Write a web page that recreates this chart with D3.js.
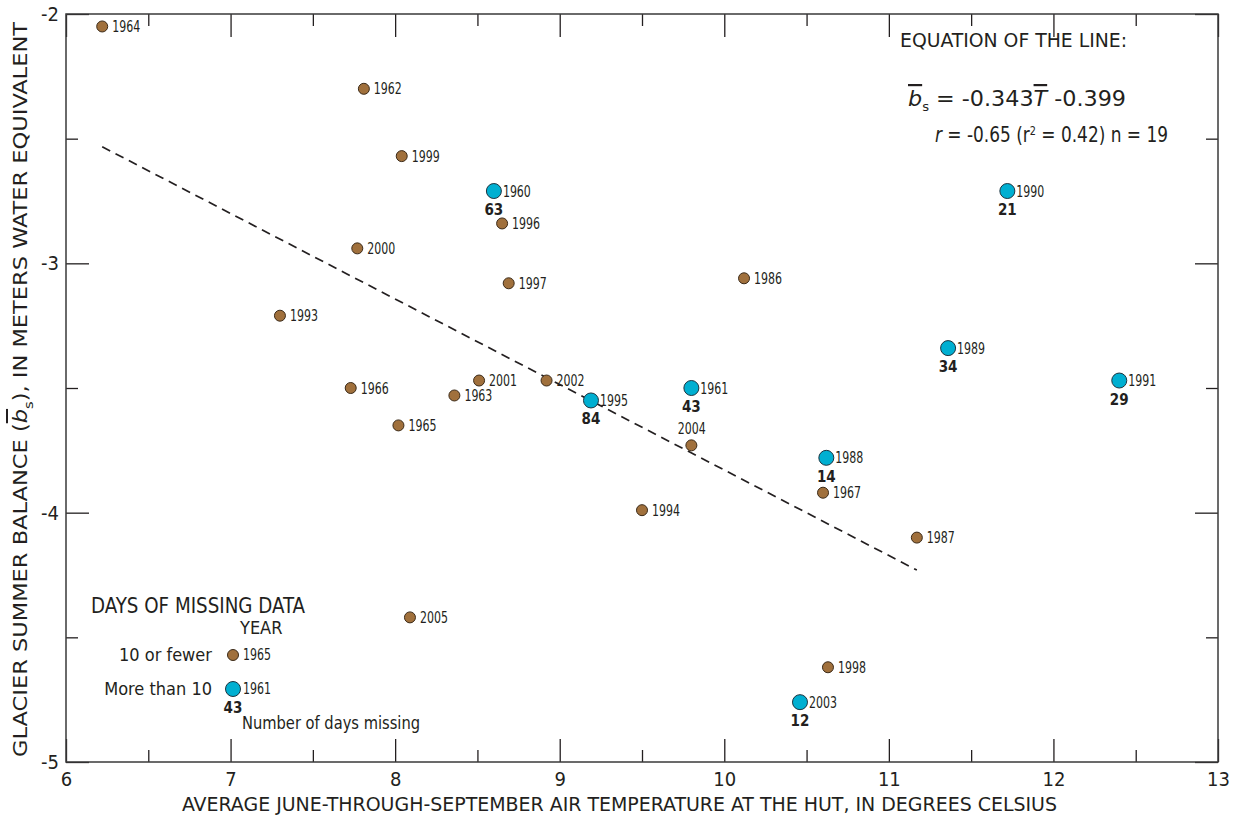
<!DOCTYPE html>
<html lang="en">
<head>
<meta charset="UTF-8">
<title>Glacier summer balance vs air temperature</title>
<script src="https://cdn.jsdelivr.net/npm/d3@7"></script>
<style>
  body { margin: 0; background: #fff; }
  text { font-family: "Liberation Sans Narrow", "DejaVu Sans Condensed", sans-serif; fill: #231f20; }
</style>
</head>
<body>
<script>
// years with 10 or fewer days of missing data (these are used for the line)
const fewYears = [1964, 1962, 1999, 1996, 2000, 1997, 1986, 1993, 1966, 2001, 2002, 1963, 1965, 2004, 1967, 1994, 1987, 2005, 1998];
const fewTemp  = [6.22, 7.81, 8.04, 8.65, 7.77, 8.69, 10.12, 7.30, 7.73, 8.51, 8.92, 8.36, 8.02, 9.80, 10.60, 9.50, 11.17, 8.09, 10.63];
const fewBal   = [-2.05, -2.30, -2.57, -2.84, -2.94, -3.08, -3.06, -3.21, -3.50, -3.47, -3.47, -3.53, -3.65, -3.73, -3.92, -3.99, -4.10, -4.42, -4.62];

// years with more than 10 days missing
const manyYears = [1960, 1990, 1989, 1991, 1961, 1995, 1988, 2003];
const manyTemp  = [8.60, 11.72, 11.36, 12.40, 9.80, 9.19, 10.62, 10.46];
const manyBal   = [-2.71, -2.71, -3.34, -3.47, -3.50, -3.55, -3.78, -4.76];
const manyDays  = [63, 21, 34, 29, 43, 84, 14, 12];

const xTicks = [6, 7, 8, 9, 10, 11, 12, 13];
const xMinor = [6.5, 7.5, 8.5, 9.5, 10.5, 11.5, 12.5];
const yTicks = [-2, -3, -4, -5];
const yMinor = [-2.5, -3.5, -4.5];

const slope = -0.343, intercept = -0.399;

const width = 1239, height = 820;
const margin = { top: 14, right: 21, bottom: 58, left: 66 };
const brown = "#a0703c", blue = "#00afd1";

const svg = d3.select("body").append("svg")
    .attr("width", width)
    .attr("height", height);

const x = d3.scaleLinear().domain([6, 13]).range([margin.left, width - margin.right]);
const y = d3.scaleLinear().domain([-2, -5]).range([margin.top, height - margin.bottom]);

// axes, ticks pointing inward on all four sides
function drawAxis(axis, tx, ty, labels) {
    const g = svg.append("g")
        .attr("transform", `translate(${tx},${ty})`)
        .call(axis);
    g.select(".domain").remove();
    g.selectAll("line").attr("stroke", "#231f20").attr("stroke-width", 1.3);
    if (!labels) g.selectAll("text").remove();
    else g.selectAll("text").attr("font-size", 20).attr("fill", "#231f20");
    return g;
}
const plotBottom = y(-5), plotTop = y(-2), plotLeft = x(6), plotRight = x(13);
const plain = d => String(d);

drawAxis(d3.axisBottom(x).tickValues(xTicks).tickSize(-23).tickPadding(10).tickFormat(plain), 0, plotBottom, true);
drawAxis(d3.axisBottom(x).tickValues(xMinor).tickSize(-12), 0, plotBottom, false);
drawAxis(d3.axisTop(x).tickValues(xTicks).tickSize(-23), 0, plotTop, false);
drawAxis(d3.axisTop(x).tickValues(xMinor).tickSize(-12), 0, plotTop, false);
drawAxis(d3.axisLeft(y).tickValues(yTicks).tickSize(-23).tickPadding(7).tickFormat(plain), plotLeft, 0, true);
drawAxis(d3.axisLeft(y).tickValues(yMinor).tickSize(-12), plotLeft, 0, false);
drawAxis(d3.axisRight(y).tickValues(yTicks).tickSize(-23), plotRight, 0, false);
drawAxis(d3.axisRight(y).tickValues(yMinor).tickSize(-12), plotRight, 0, false);

svg.append("rect")
    .attr("x", plotLeft).attr("y", plotTop)
    .attr("width", plotRight - plotLeft).attr("height", plotBottom - plotTop)
    .attr("fill", "none").attr("stroke", "#3a3a3a").attr("stroke-width", 1.5);

// regression line over the range of the fitted years
const xr = d3.extent(fewTemp);
svg.append("line")
    .attr("x1", x(xr[0])).attr("y1", y(slope * xr[0] + intercept))
    .attr("x2", x(xr[1])).attr("y2", y(slope * xr[1] + intercept))
    .attr("stroke", "#231f20").attr("stroke-width", 1.7)
    .attr("stroke-dasharray", "9,6");

// points
const few = fewYears.map((yr, i) => ({ yr, t: fewTemp[i], b: fewBal[i] }));
const many = manyYears.map((yr, i) => ({ yr, t: manyTemp[i], b: manyBal[i], days: manyDays[i] }));

svg.append("g").selectAll("circle").data(few).join("circle")
    .attr("cx", d => x(d.t)).attr("cy", d => y(d.b)).attr("r", 5.5)
    .attr("fill", brown).attr("stroke", "#3b2a18").attr("stroke-width", 1);

svg.append("g").selectAll("circle").data(many).join("circle")
    .attr("cx", d => x(d.t)).attr("cy", d => y(d.b)).attr("r", 7.5)
    .attr("fill", blue).attr("stroke", "#1c3440").attr("stroke-width", 1);

// year labels are squeezed to the width of the condensed original
svg.append("g").selectAll("text").data(few).join("text")
    .attr("x", d => d.yr === 2004 ? x(d.t) - 13.5 : x(d.t) + 10)
    .attr("y", d => d.yr === 2004 ? y(d.b) - 11 : y(d.b) + 5.5)
    .attr("font-size", 15)
    .attr("textLength", 28).attr("lengthAdjust", "spacingAndGlyphs")
    .text(d => d.yr);

svg.append("g").selectAll("text").data(many).join("text")
    .attr("x", d => x(d.t) + 9).attr("y", d => y(d.b) + 5.5)
    .attr("font-size", 15)
    .attr("textLength", 28).attr("lengthAdjust", "spacingAndGlyphs")
    .text(d => d.yr);

svg.append("g").selectAll("text").data(many).join("text")
    .attr("x", d => x(d.t)).attr("y", d => y(d.b) + 24)
    .attr("text-anchor", "middle")
    .attr("font-size", 15).attr("font-weight", "bold")
    .text(d => d.days);

// equation block
svg.append("text").attr("x", 900).attr("y", 47).attr("font-size", 20)
    .attr("textLength", 227).attr("lengthAdjust", "spacingAndGlyphs")
    .text("EQUATION OF THE LINE:");

const eq = svg.append("text").attr("x", 908).attr("y", 106).attr("font-size", 22)
    .attr("textLength", 218).attr("lengthAdjust", "spacingAndGlyphs");
eq.append("tspan").attr("font-style", "italic").attr("text-decoration", "overline").text("b");
eq.append("tspan").attr("font-size", 13).attr("dy", 5).text("s");
eq.append("tspan").attr("dy", -5).text(" = -0.343");
eq.append("tspan").attr("font-style", "italic").attr("text-decoration", "overline").text("T");
eq.append("tspan").text(" -0.399");

const rr = svg.append("text").attr("x", 935).attr("y", 142).attr("font-size", 21)
    .attr("textLength", 233).attr("lengthAdjust", "spacingAndGlyphs");
rr.append("tspan").attr("font-style", "italic").text("r");
rr.append("tspan").text(" = -0.65 (r");
rr.append("tspan").attr("font-size", 12).attr("dy", -7).text("2");
rr.append("tspan").attr("dy", 7).text(" = 0.42)  n = 19");

// legend
const lg = svg.append("g");
lg.append("text").attr("x", 91).attr("y", 613).attr("font-size", 21)
    .attr("textLength", 214).attr("lengthAdjust", "spacingAndGlyphs").text("DAYS OF MISSING DATA");
lg.append("text").attr("x", 240).attr("y", 634).attr("font-size", 18).text("YEAR");
lg.append("text").attr("x", 212).attr("y", 661).attr("font-size", 18).attr("text-anchor", "end").text("10 or fewer");
lg.append("text").attr("x", 212).attr("y", 695).attr("font-size", 18).attr("text-anchor", "end").text("More than 10");
lg.append("circle").attr("cx", 233).attr("cy", 655).attr("r", 5.5)
    .attr("fill", brown).attr("stroke", "#3b2a18");
lg.append("circle").attr("cx", 233).attr("cy", 689).attr("r", 7.5)
    .attr("fill", blue).attr("stroke", "#1c3440");
lg.append("text").attr("x", 243).attr("y", 660).attr("font-size", 15)
    .attr("textLength", 28).attr("lengthAdjust", "spacingAndGlyphs").text("1965");
lg.append("text").attr("x", 243).attr("y", 694).attr("font-size", 15)
    .attr("textLength", 28).attr("lengthAdjust", "spacingAndGlyphs").text("1961");
lg.append("text").attr("x", 233).attr("y", 713).attr("font-size", 15).attr("font-weight", "bold")
    .attr("text-anchor", "middle").text("43");
lg.append("text").attr("x", 242).attr("y", 729).attr("font-size", 18)
    .attr("textLength", 178).attr("lengthAdjust", "spacingAndGlyphs").text("Number of days missing");

// axis titles
svg.append("text")
    .attr("x", 182).attr("y", 811).attr("font-size", 20)
    .attr("textLength", 875).attr("lengthAdjust", "spacingAndGlyphs")
    .text("AVERAGE JUNE-THROUGH-SEPTEMBER AIR TEMPERATURE AT THE HUT, IN DEGREES CELSIUS");

const yt = svg.append("text")
    .attr("transform", `translate(27,757) rotate(-90)`)
    .attr("font-size", 20)
    .attr("textLength", 735).attr("lengthAdjust", "spacingAndGlyphs");
yt.append("tspan").text("GLACIER SUMMER BALANCE (");
yt.append("tspan").attr("font-style", "italic").attr("text-decoration", "overline").text("b");
yt.append("tspan").attr("font-size", 13).attr("dy", 6).text("s");
yt.append("tspan").attr("dy", -6).text("), IN METERS WATER EQUIVALENT");
</script>
</body>
</html>
